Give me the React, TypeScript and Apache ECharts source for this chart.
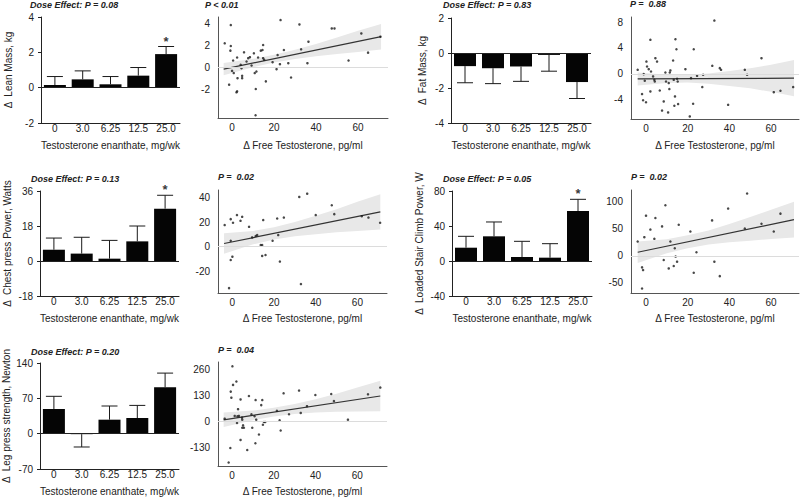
import React, { useEffect, useRef } from 'react';
import * as echarts from 'echarts';

const FONT = '"Liberation Sans", Arial, Helvetica, sans-serif';
const TXT = '#222';

const doseCats = ['0', '3.0', '6.25', '12.5', '25.0'];

// Bar panels: means and error-bar ends
const leanMean = [0.15, 0.47, 0.19, 0.68, 1.9];
const leanErr = [0.63, 0.95, 0.63, 1.14, 2.33];
const leanStar = [null, null, null, null, 2.33];

const fatMean = [-0.75, -0.87, -0.77, -0.11, -1.66];
const fatErr = [-1.7, -1.75, -1.62, -1.04, -2.6];
const fatStar = [null, null, null, null, null];

const chestMean = [5.8, 3.8, 1.2, 10.1, 26.9];
const chestErr = [11.8, 12.2, 10.6, 18, 33.8];
const chestStar = [null, null, null, null, 33.8];

const stairMean = [15.2, 28.2, 4.6, 3.8, 57.1];
const stairErr = [28.2, 44.6, 22.5, 19.8, 70.5];
const stairStar = [null, null, null, null, 70.5];

const legMean = [48.9, -1, 27.7, 31, 91.8];
const legErr = [74, -26.4, 54.8, 56, 120];
const legStar = [null, null, null, null, null];

// Scatter panels: [Δ free testosterone, Δ outcome]
const leanPts = [[-3.5, 2.18], [-0.6, 3.82], [-0.6, 1.94], [-0.8, 1.52], [-1.4, -1.55], [0.5, 0.63], [0, -0.3], [0.8, -0.5], [2.4, 0.9], [2.6, -0.96], [2.4, -2.15], [2.1, -2.24], [4.1, 0.24], [4.5, -0.06], [4.8, -0.75], [4.8, -0.96], [5.7, 1.37], [6.9, 0.54], [7.7, 0.84], [8.5, 0.93], [9.3, 0.18], [10.4, 1.28], [10.8, -0.5], [11.3, -1.94], [11.2, -4.3], [11.6, -0.36], [12.4, 0.9], [13.7, 1.52], [14.5, 1.58], [14.8, 2.03], [14.8, 0.84], [15.3, 0.69], [16.1, -1.25], [19.3, 0.48], [21.2, -0.15], [21.7, 1.13], [23.1, 4.27], [22.8, 0.3], [24.7, 1.58], [26.8, 0.39], [28.1, -0.9], [32.1, 3.88], [32.9, 1.64], [35.9, 0.39], [36.4, 2.33], [47.5, 3.52], [48.8, 3.52], [55.5, 0.63], [61.6, 3.07], [64.8, 1.34], [70.7, 2.78]];

const fatPts = [[-4, 0.62], [-1.9, -3.14], [-1.4, -4.1], [-1.1, -0.05], [-0.6, -1.08], [0, -4.4], [0.2, 1.9], [0.5, 1.13], [1.3, 0.72], [2.1, 5.26], [2.1, -2.73], [2.4, 0.36], [3.4, -0.41], [4.0, -0.93], [4.2, -1.19], [4.5, 2.42], [5.3, 1.9], [6.6, -2.58], [8.5, -4.28], [7.7, -5.7], [9.3, 0.2], [9.6, -1.19], [10.6, -5.98], [10.9, -1.44], [11.2, -2.37], [11.4, 0.2], [11.7, 0.52], [13.0, 2.06], [13.3, -0.93], [13.6, -4.95], [13.9, -3.5], [14.1, 5.36], [14.6, 3.8], [14.9, -0.77], [15.2, -1.19], [15.4, -4.69], [18.9, 0.72], [21.0, -6.6], [21.6, -0.67], [22.6, -4.64], [22.9, 3.8], [24.5, -0.31], [27.0, -2.06], [27.4, -0.15], [31.8, 1.24], [32.8, 8.25], [35.4, 0.88], [36.0, 0.62], [39.4, -4.8], [47.4, 0.62], [48.5, -0.15], [55.4, 2.42], [61.3, -2.84], [64.5, -2.63], [70.6, -2.06]];

const chestPts = [[-3.7, 17.7], [-1.6, -34], [-0.8, 4.9], [-0.8, -10.9], [-0.8, 22.6], [0, -8.2], [0.3, 19.6], [2.2, 25.9], [3.9, 21.2], [4.7, 24.5], [8.0, 16.3], [9.5, 7.6], [11.2, 8.7], [11.9, 9.5], [13.6, 1.4], [14.3, 1.4], [14.3, -7.6], [14.8, 21.8], [15.9, -6.8], [19.3, 4.9], [21.5, 23.1], [22.0, 9.5], [22.8, -12.2], [24.7, 23.9], [32.1, 40.8], [32.9, -30.7], [35.9, 43.5], [40.0, 25.9], [47.7, 34.0], [48.9, 26.7], [62.1, 25.0], [65.3, 23.9], [70.9, 19.6]];

const stairPts = [[-4, 26.7], [-1.9, -21.1], [-1.4, -26.1], [-1.9, -60.2], [-0.8, 34.8], [0, 74.5], [2.1, 48.8], [4.0, 31.7], [4.5, 70.2], [7.7, 54.7], [8.5, -7.5], [9.3, 93.8], [10.9, -23.0], [11.7, 26.7], [13.3, -18.6], [13.8, 14.3], [14.2, -1.2], [14.9, -10.6], [15.7, 57.8], [21.3, 45.3], [22.9, -31.1], [24.2, 6.8], [31.7, 65.8], [32.8, -10.6], [35.4, -37.3], [39.4, 87.6], [47.4, 50.6], [48.5, 115.5], [55.4, 59.6], [61.3, 45.3], [64.5, 78.3]];

const legPts = [[-3.5, 11.8], [-1.6, -207.7], [-0.8, -135], [-0.6, 146.9], [-0.3, 116.5], [0.2, 273.5], [0.5, 180.6], [1.3, 25.3], [2.1, 197.5], [2.4, -10.1], [2.9, 59.1], [2.6, 23.6], [3.3, 25.3], [4.1, 108], [4.1, -94.5], [4.8, 16.9], [4.9, 6.8], [5.3, -21.9], [5.7, -33.8], [4.9, -33.8], [7.3, -145.2], [8.1, 124.9], [9.3, 33.8], [9.7, -33.8], [10.8, 23.6], [11.2, -111.4], [11.3, 104.7], [11.6, 6.8], [12.9, -67.5], [14.0, 79.4], [14.5, 104.7], [14.8, -18.6], [15.3, -5.1], [15.9, -5.1], [21.5, 50.7], [22.8, 3.4], [23.3, -47.3], [24.7, 138.5], [27.3, 33.8], [32.1, 152], [32.9, 40.5], [35.9, 74.3], [39.9, 130], [47.5, 135.1], [48.8, 99.6], [55.5, 6.8], [65.1, 133.4], [71, 167.2]];

// Fitted lines and confidence bands
const bandX = [-4, 10, 20, 30, 40, 50, 60, 71];
const leanLine = [[-4, -0.15], [71, 2.78]];
const leanLo = [-0.7, 0.02, 0.44, 0.76, 1.02, 1.21, 1.4, 1.63];
const leanHi = [0.4, 0.78, 1.14, 1.6, 2.12, 2.71, 3.3, 3.93];
const fatLine = [[-4, -0.8], [71, -0.67]];
const fatLo = [-1.8, -1.43, -1.36, -1.54, -1.87, -2.25, -2.79, -3.47];
const fatHi = [0.2, -0.13, -0.16, 0.06, 0.43, 0.85, 1.41, 2.13];
const chestLine = [[-4, 2.6], [71, 28.6]];
const chestLo = [-5.9, 1.9, 5.9, 8.6, 10.3, 11.8, 12.8, 14.1];
const chestHi = [11.1, 12.9, 15.9, 20.2, 25.3, 30.8, 36.8, 43.1];
const stairLine = [[-4, 6.8], [71, 67.1]];
const stairLo = [-13.2, 5.1, 14.1, 21.2, 25.2, 28.2, 31.3, 34.1];
const stairHi = [26.8, 31.1, 38.1, 47.2, 59.2, 72.2, 85.3, 100.1];
const legLine = [[-4, 6.0], [71, 125.1]];
const legLo = [-30, 4.2, 22.1, 35.0, 42.9, 46.7, 47.6, 49.1];
const legHi = [42, 52.2, 66.1, 85.0, 108.9, 136.7, 167.6, 201.1];

const freeTTicks = [0, 20, 40, 60];
const leanTicks = [-2, 0, 2, 4];
const fatTicks = [-4, 0, 4, 8];
const chestTicks = [-20, 0, 20, 40];
const stairTicks = [-50, 0, 50, 100];
const legTicks = [-130, 0, 130, 260];

export default function App() {
  const ref = useRef<HTMLDivElement>(null);
  useEffect(() => {
    const chart = echarts.init(ref.current!, null, { renderer: 'svg' });
    const grids: any[] = [];
    const xAxes: any[] = [];
    const yAxes: any[] = [];
    const series: any[] = [];
    const titles: any[] = [];
    const labelStyle = { color: TXT, fontSize: 10, fontFamily: FONT };
    const nameStyle = { color: TXT, fontSize: 10, fontFamily: FONT };

    const addTitle = (text: string, left: number, top: number) => {
      titles.push({
        text, left, top, padding: 0,
        textStyle: { fontSize: 9, fontWeight: 'bold', fontStyle: 'italic', color: TXT, fontFamily: FONT },
      });
    };

    const addBar = (p: any) => {
      const gi = grids.length;
      grids.push({ left: p.box[0], top: p.box[1], width: p.box[2], height: p.box[3], outerBoundsMode: 'none' });
      xAxes.push({
        type: 'category', gridIndex: gi, data: doseCats,
        axisLine: { onZero: false, lineStyle: { color: '#222', width: 1 } },
        axisTick: { show: false },
        axisLabel: { ...labelStyle, margin: 0 },
        name: 'Testosterone enanthate, mg/wk', nameLocation: 'middle', nameGap: p.xGap, nameTextStyle: nameStyle,
        nameMoveOverlap: false,
      });
      yAxes.push({
        type: 'value', gridIndex: gi, min: p.min, max: p.max, interval: p.interval,
        axisLine: { show: true, onZero: false, lineStyle: { color: '#222', width: 1 } },
        axisTick: { show: true, length: 3, lineStyle: { color: '#222' } },
        splitLine: { show: false },
        axisLabel: { ...labelStyle, margin: 7 },
        name: p.yName, nameLocation: 'middle', nameGap: p.nameGap, nameTextStyle: nameStyle,
        nameMoveOverlap: false,
      });
      series.push({
        type: 'bar', xAxisIndex: gi, yAxisIndex: gi, data: p.mean, barWidth: 22,
        itemStyle: { color: '#050505' }, z: 2,
        markLine: {
          silent: true, symbol: 'none', label: { show: false },
          lineStyle: { color: '#222', width: 1, type: 'solid' },
          data: [{ yAxis: 0 }],
        },
      });
      series.push({
        type: 'custom', xAxisIndex: gi, yAxisIndex: gi, z: 3,
        data: p.mean.map((m: number, i: number) => [i, m, p.err[i]]),
        encode: { x: 0, y: [1, 2] },
        renderItem: (_params: any, api: any) => {
          const p0 = api.coord([api.value(0), api.value(1)]);
          const p1 = api.coord([api.value(0), api.value(2)]);
          const st = { stroke: '#1a1a1a', lineWidth: 1 };
          return {
            type: 'group',
            children: [
              { type: 'line', shape: { x1: p0[0], y1: p0[1], x2: p1[0], y2: p1[1] }, style: st },
              { type: 'line', shape: { x1: p1[0] - 8, y1: p1[1], x2: p1[0] + 8, y2: p1[1] }, style: st },
            ],
          };
        },
      });
      series.push({
        type: 'scatter', xAxisIndex: gi, yAxisIndex: gi, symbolSize: 0,
        data: p.star.map((v: any) => (v == null ? '-' : v)),
        label: {
          show: true, formatter: '*', position: 'top', distance: -1,
          color: '#000', fontSize: 13, fontWeight: 'bold', fontFamily: FONT,
        },
      });
      addTitle(p.title, p.titlePos[0], p.titlePos[1]);
    };

    const addScatter = (p: any) => {
      const gi = grids.length;
      grids.push({ left: p.box[0], top: p.box[1], width: p.box[2], height: p.box[3], outerBoundsMode: 'none' });
      xAxes.push({
        type: 'value', gridIndex: gi, min: p.xRange[0], max: p.xRange[1],
        axisLine: { show: true, onZero: false, lineStyle: { color: '#555', width: 1 } },
        axisTick: { show: false }, splitLine: { show: false },
        axisLabel: { ...labelStyle, margin: 4, customValues: freeTTicks },
        name: 'Δ Free Testosterone, pg/ml', nameLocation: 'middle', nameGap: p.xGap, nameTextStyle: nameStyle,
        nameMoveOverlap: false,
      });
      yAxes.push({
        type: 'value', gridIndex: gi, min: p.yRange[0], max: p.yRange[1],
        axisLine: { show: true, onZero: false, lineStyle: { color: '#555', width: 1 } },
        axisTick: { show: false }, splitLine: { show: false },
        axisLabel: { ...labelStyle, margin: 8, customValues: p.yTicks },
      });
      const lo = p.lo, hi = p.hi;
      series.push({
        type: 'custom', xAxisIndex: gi, yAxisIndex: gi, z: 1, silent: true,
        data: bandX.map((x, i) => [x, lo[i], hi[i]]),
        encode: { x: 0, y: [1, 2] },
        renderItem: (params: any, api: any) => {
          if (params.dataIndex !== 0) return null;
          const pts: number[][] = [];
          for (let i = 0; i < bandX.length; i++) pts.push(api.coord([bandX[i], hi[i]]));
          for (let i = bandX.length - 1; i >= 0; i--) pts.push(api.coord([bandX[i], lo[i]]));
          return { type: 'polygon', shape: { points: pts }, style: { fill: '#e8e8e8', stroke: 'none' } };
        },
      });
      series.push({
        type: 'scatter', xAxisIndex: gi, yAxisIndex: gi, z: 2, data: [],
        markLine: {
          silent: true, symbol: 'none', label: { show: false },
          lineStyle: { color: '#dcdcdc', width: 1.2, type: 'solid' },
          data: [{ yAxis: 0 }],
        },
      });
      series.push({
        type: 'line', xAxisIndex: gi, yAxisIndex: gi, z: 3, data: p.line,
        symbol: 'none', lineStyle: { color: '#333', width: 1.2 },
      });
      series.push({
        type: 'scatter', xAxisIndex: gi, yAxisIndex: gi, z: 4, data: p.pts,
        symbolSize: 2.5, itemStyle: { color: '#1a1a1a' },
      });
      addTitle(p.title, p.titlePos[0], p.titlePos[1]);
    };

    addBar({ box: [41, 17, 139, 106], min: -2, max: 4, interval: 2, mean: leanMean, err: leanErr, star: leanStar, yName: 'Δ  Lean Mass, kg', nameGap: 28, xGap: 17, title: 'Dose Effect: P = 0.08', titlePos: [30, 0] });
    addScatter({ box: [218, 17, 170, 101], xRange: [-6.7, 74.3], yRange: [-4.55, 4.55], yTicks: leanTicks, pts: leanPts, line: leanLine, lo: leanLo, hi: leanHi, xGap: 22, title: 'P < 0.01', titlePos: [205, 0] });
    addBar({ box: [451, 18, 140, 105], min: -4, max: 2, interval: 2, mean: fatMean, err: fatErr, star: fatStar, yName: 'Δ  Fat Mass, kg', nameGap: 24, xGap: 17, title: 'Dose Effect: P = 0.83', titlePos: [443, 0] });
    addScatter({ box: [631, 17, 168, 102], xRange: [-7.2, 73.4], yRange: [-7.0, 8.8], yTicks: fatTicks, pts: fatPts, line: fatLine, lo: fatLo, hi: fatHi, xGap: 21, title: 'P =  0.88', titlePos: [630, -1] });

    addBar({ box: [40, 191, 139, 105], min: -18, max: 36, interval: 18, mean: chestMean, err: chestErr, star: chestStar, yName: 'Δ  Chest press Power, Watts', nameGap: 28, xGap: 17, title: 'Dose Effect: P = 0.13', titlePos: [31, 174] });
    addScatter({ box: [218, 190, 169, 103], xRange: [-6.9, 74.2], yRange: [-38, 46.5], yTicks: chestTicks, pts: chestPts, line: chestLine, lo: chestLo, hi: chestHi, xGap: 20, title: 'P =  0.02', titlePos: [218, 172] });
    addBar({ box: [452, 191, 140, 105], min: -40, max: 80, interval: 40, mean: stairMean, err: stairErr, star: stairStar, yName: 'Δ  Loaded Stair Climb Power, W', nameGap: 28, xGap: 17, title: 'Dose Effect: P = 0.05', titlePos: [443, 174] });
    addScatter({ box: [631, 190, 168, 103], xRange: [-7.2, 73.4], yRange: [-68.5, 122], yTicks: stairTicks, pts: stairPts, line: stairLine, lo: stairLo, hi: stairHi, xGap: 20, title: 'P =  0.02', titlePos: [631, 172] });

    addBar({ box: [40, 363, 139, 106], min: -70, max: 140, interval: 70, mean: legMean, err: legErr, star: legStar, yName: 'Δ  Leg press strength, Newton', nameGap: 29, xGap: 17, title: 'Dose Effect: P = 0.20', titlePos: [31, 347] });
    addScatter({ box: [218, 362, 169, 104], xRange: [-6.7, 74.2], yRange: [-225, 295], yTicks: legTicks, pts: legPts, line: legLine, lo: legLo, hi: legHi, xGap: 20, title: 'P =  0.04', titlePos: [218, 345] });

    chart.setOption({
      animation: false,
      backgroundColor: '#fff',
      textStyle: { fontFamily: FONT },
      title: titles,
      grid: grids,
      xAxis: xAxes,
      yAxis: yAxes,
      series,
    });
    return () => chart.dispose();
  }, []);
  return <div ref={ref} style={{ position: 'fixed', left: 0, top: 0, width: 800, height: 498 }} />;
}
